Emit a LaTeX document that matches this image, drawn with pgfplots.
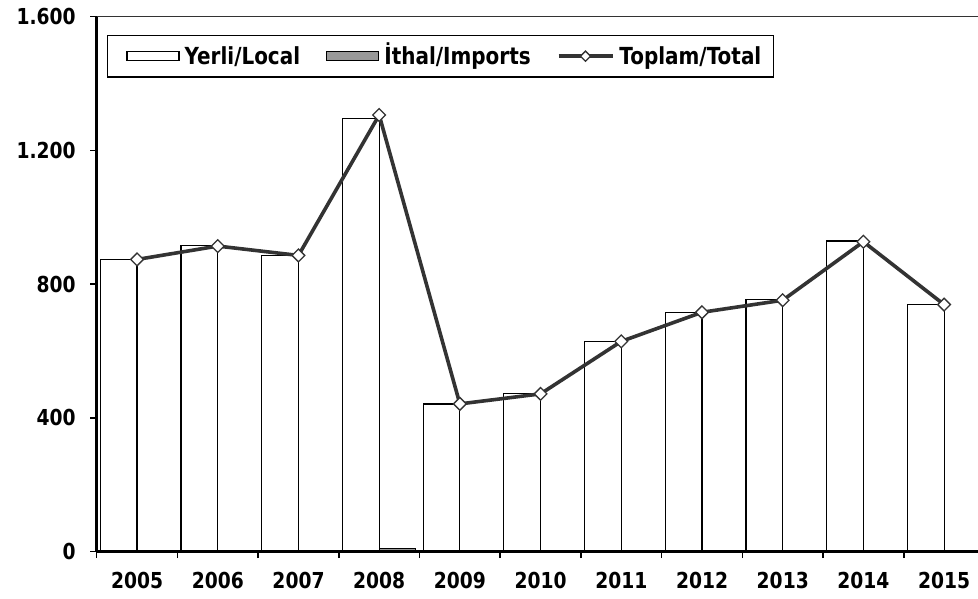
\documentclass[border=0pt]{standalone}
\usepackage{pgfplots}
\pgfplotsset{compat=1.18}
\usepackage{fontspec}
\setmainfont{DejaVu Sans}[FakeStretch=0.85]
\definecolor{lc}{HTML}{333333}
\definecolor{ic}{HTML}{999999}
\pgfplotsset{
  lineleg/.style={legend image code/.code={\path (57pt,0pt); \draw[##1, mark repeat=2, mark phase=2, mark size=3.6pt] plot coordinates {(0pt,0pt) (27pt,0pt) (54pt,0pt)};}},
  whiteleg/.style={legend image code/.code={\path (-9pt,0pt) (55pt,0pt); \draw[fill=white, draw=black, line width=1.2pt] (0pt,-4.5pt) rectangle (52pt,4.5pt);}},
  grayleg/.style={legend image code/.code={\path (55pt,0pt); \draw[fill=ic, draw=black, line width=1.2pt] (0pt,-4.5pt) rectangle (52pt,4.5pt);}},
}
\begin{document}
\begin{tikzpicture}[x=1pt,y=1pt]
\begin{axis}[
  at={(96.7pt,47.3pt)}, anchor=south west,
  scale only axis, width=881.3pt, height=535pt,
  xmin=-0.5, xmax=10.42, ymin=0, ymax=1600,
  axis x line*=bottom, axis y line*=left,
  axis line style={line width=3pt, black, -},
  axis on top,
  tick align=outside,
  major tick length=6.5pt,
  tick style={draw=black, line width=1.5pt},
  xtick={-0.5,0.5,...,9.5},
  xticklabels={\mbox{2005},\mbox{2006},\mbox{2007},\mbox{2008},\mbox{2009},\mbox{2010},\mbox{2011},\mbox{2012},\mbox{2013},\mbox{2014},\mbox{2015}},
  xticklabel style={xshift=40.4pt, yshift=-10pt, font=\fontsize{22}{26}\selectfont\bfseries},
  ytick={0,400,800,1200,1600},
  yticklabels={\mbox{0},\mbox{400},\mbox{800},\mbox{1.200},\mbox{1.600}},
  yticklabel style={xshift=-11pt, font=\fontsize{22}{26}\selectfont\bfseries},
  legend columns=3,
  legend style={at={(axis description cs:0.0113,0.966)}, anchor=north west,
    draw=black, line width=1.3pt, font=\fontsize{23.5}{27}\selectfont\bfseries,
    inner xsep=10pt, inner ysep=9pt,
    /tikz/every even column/.append style={column sep=24pt}},
]
\draw[lc, line width=1.3pt] (rel axis cs:0,1) -- (rel axis cs:1,1);
\addplot[ybar, bar width=0.455, bar shift=-0.2275, fill=white, draw=black, line width=1.2pt, whiteleg]
  coordinates {(0,874) (1,916) (2,886) (3,1296) (4,442) (5,472) (6,629) (7,716) (8,754) (9,929) (10,739)};
\addlegendentry{Yerli/Local}
\addplot[ybar, bar width=0.455, bar shift=0.2275, fill=ic, draw=black, line width=1.2pt, grayleg]
  coordinates {(0,0) (1,0) (2,0) (3,9) (4,0) (5,0) (6,0) (7,0) (8,0) (9,0) (10,0)};
\addlegendentry{\smash{İ}thal/Imports}
\addplot[lc, line width=3.6pt, mark=square*, mark size=4.5pt,
  mark options={fill=white, draw=lc, line width=1.3pt, rotate=45, solid}, lineleg]
  coordinates {(0,874) (1,914) (2,886) (3,1306) (4,442) (5,472) (6,629) (7,716) (8,752) (9,927) (10,739)};
\addlegendentry{Toplam/Total}
\end{axis}
\pgfresetboundingbox
\path (0,0) rectangle (978,599);
\end{tikzpicture}
\end{document}
